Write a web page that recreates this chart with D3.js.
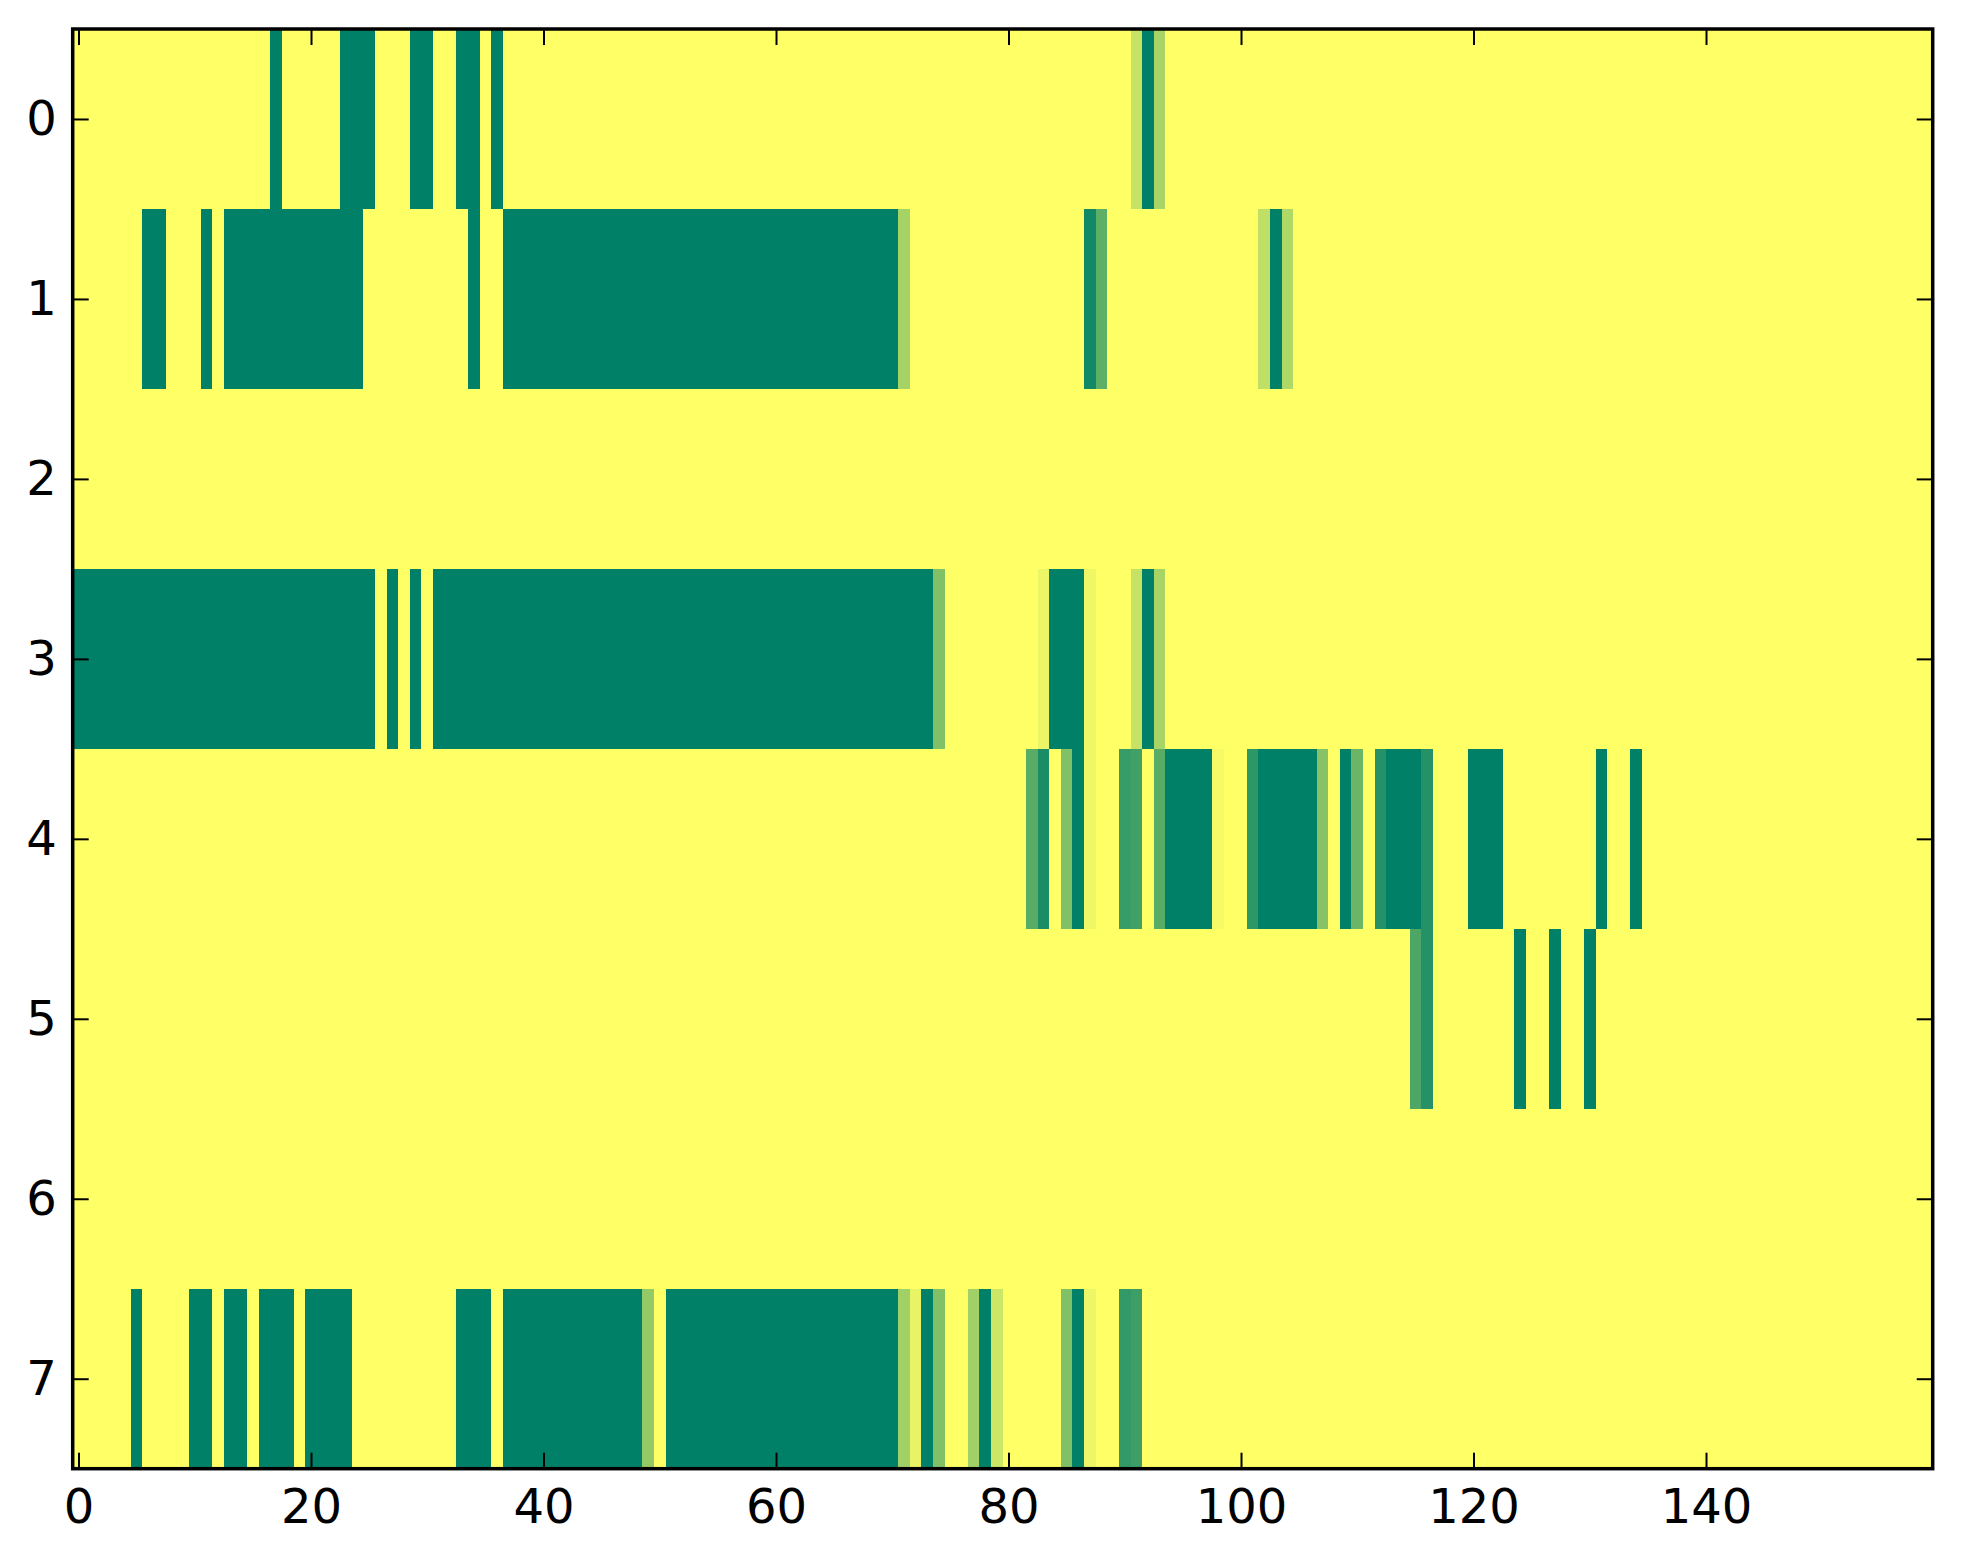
<!DOCTYPE html>
<html>
<head>
<meta charset="utf-8">
<script src="https://cdn.jsdelivr.net/npm/d3@7"></script>
<style>
  body { margin: 0; background: #fff; }
  svg { display: block; }
</style>
</head>
<body>
<svg id="canvas"></svg>
<script>
// grid size
let nCols = 160
let rowLabels = [0, 1, 2, 3, 4, 5, 6, 7]
let xTickValues = [0, 20, 40, 60, 80, 100, 120, 140]

// runs: [fromCol, toCol, value], everything else is 0
let row0 = [[17, 17, 1], [23, 25, 1], [29, 30, 1], [33, 34, 1], [36, 36, 1],
            [91, 91, 0.22], [92, 92, 1], [93, 93, 0.34]]
let row1 = [[6, 7, 1], [11, 11, 1], [13, 24, 1], [34, 34, 1], [37, 70, 1], [71, 71, 0.35],
            [87, 87, 0.93], [88, 88, 0.63], [102, 102, 0.25], [103, 103, 1], [104, 104, 0.31]]
let row2 = []
let row3 = [[0, 25, 1], [27, 27, 1], [29, 29, 1], [31, 73, 1], [74, 74, 0.5],
            [83, 83, 0.08], [84, 86, 1], [87, 87, 0.06], [91, 91, 0.22], [92, 92, 1], [93, 93, 0.34]]
let row4 = [[82, 82, 0.65], [83, 83, 0.9], [85, 85, 0.5], [86, 86, 1], [87, 87, 0.06],
            [90, 90, 0.78], [91, 91, 0.75], [93, 93, 0.65], [94, 97, 1], [98, 98, 0.04],
            [101, 101, 0.82], [102, 106, 1], [107, 107, 0.47], [109, 109, 1], [110, 110, 0.58],
            [112, 112, 0.86], [113, 115, 1], [116, 116, 0.86], [120, 122, 1], [131, 131, 1], [134, 134, 1]]
let row5 = [[115, 115, 0.7], [116, 116, 0.86], [124, 124, 1], [127, 127, 1], [130, 130, 1]]
let row6 = []
let row7 = [[5, 5, 1], [10, 11, 1], [13, 14, 1], [16, 18, 1], [20, 23, 1], [33, 35, 1],
            [37, 48, 1], [49, 49, 0.42], [51, 70, 1], [71, 71, 0.37], [72, 72, 0.09], [73, 73, 1],
            [74, 74, 0.5], [77, 77, 0.37], [78, 78, 1], [79, 79, 0.2], [85, 85, 0.5], [86, 86, 1],
            [87, 87, 0.07], [90, 90, 0.8], [91, 91, 0.76]]

let rows = [row0, row1, row2, row3, row4, row5, row6, row7]

let svgWidth = 1963
let svgHeight = 1564
let plotLeft = 72.7, plotRight = 1932.7, plotTop = 29, plotBottom = 1468.7

let canvas = d3.select('#canvas')
               .attr('width', svgWidth)
               .attr('height', svgHeight)

canvas.append('rect')
      .attr('width', svgWidth)
      .attr('height', svgHeight)
      .attr('fill', '#ffffff')

let xScale = d3.scaleLinear().domain([-0.5, nCols - 0.5]).range([plotLeft, plotRight])
let yScale = d3.scaleLinear().domain([-0.5, rows.length - 0.5]).range([plotTop, plotBottom])
// summer_r : 0 -> yellow, 1 -> dark green
let colorScale = d3.scaleLinear().domain([0, 1]).range(['#ffff66', '#008066'])

// expand the runs into full cells
let cells = []
rows.forEach((runs, r) => {
  let values = new Array(nCols).fill(0)
  runs.forEach((run) => {
    for (let c = run[0]; c <= run[1]; c++) values[c] = run[2]
  })
  values.forEach((v, c) => {
    cells.push({row: r, col: c, value: v})
  })
})

canvas.append('g')
      .attr('shape-rendering', 'crispEdges')
      .selectAll('rect')
      .data(cells)
      .enter()
      .append('rect')
      .attr('x', (d) => xScale(d.col - 0.5))
      .attr('y', (d) => yScale(d.row - 0.5))
      .attr('width', (d) => xScale(d.col + 0.5) - xScale(d.col - 0.5) + 0.5)
      .attr('height', (d) => yScale(d.row + 0.5) - yScale(d.row - 0.5) + 0.5)
      .attr('fill', (d) => colorScale(d.value))

// ticks point inward on all four sides
let tickLen = 16
let styleAxis = (g) => {
  g.select('.domain').remove()
  g.selectAll('.tick line').attr('stroke', '#000').attr('stroke-width', 2)
  g.selectAll('.tick text')
   .attr('fill', '#000')
   .style('font-family', '"DejaVu Sans", sans-serif')
   .style('font-size', '48px')
}

canvas.append('g')
      .attr('transform', 'translate(0,' + plotBottom + ')')
      .call(d3.axisBottom(xScale).tickValues(xTickValues).tickSizeInner(-tickLen).tickSizeOuter(0).tickPadding(20))
      .call(styleAxis)

canvas.append('g')
      .attr('transform', 'translate(0,' + plotTop + ')')
      .call(d3.axisTop(xScale).tickValues(xTickValues).tickSizeInner(-tickLen).tickSizeOuter(0).tickFormat(''))
      .call(styleAxis)

canvas.append('g')
      .attr('transform', 'translate(' + plotLeft + ',0)')
      .call(d3.axisLeft(yScale).tickValues(rowLabels).tickSizeInner(-tickLen).tickSizeOuter(0).tickPadding(16))
      .call(styleAxis)

canvas.append('g')
      .attr('transform', 'translate(' + plotRight + ',0)')
      .call(d3.axisRight(yScale).tickValues(rowLabels).tickSizeInner(-tickLen).tickSizeOuter(0).tickFormat(''))
      .call(styleAxis)

// frame
canvas.append('rect')
      .attr('x', plotLeft)
      .attr('y', plotTop)
      .attr('width', plotRight - plotLeft)
      .attr('height', plotBottom - plotTop)
      .attr('fill', 'none')
      .attr('stroke', '#000')
      .attr('stroke-width', 3.5)
</script>
</body>
</html>
